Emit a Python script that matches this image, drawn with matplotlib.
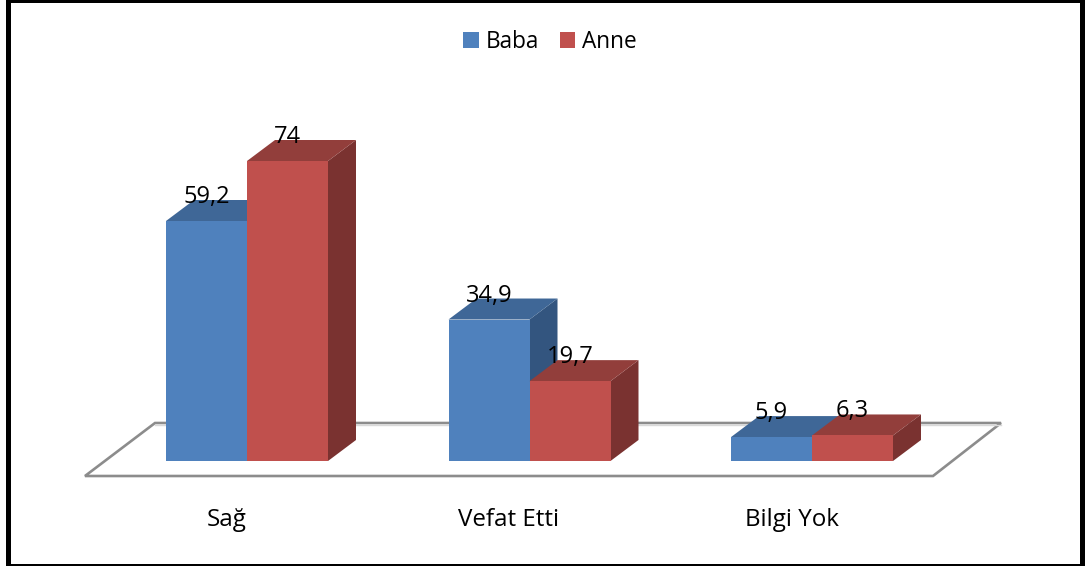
import matplotlib
matplotlib.use("Agg")
import matplotlib.pyplot as plt
from matplotlib.patches import Polygon, Rectangle

categories = ["Sağ", "Vefat Etti", "Bilgi Yok"]
baba = [59.2, 34.9, 5.9]
anne = [74, 19.7, 6.3]
baba_labels = ["59,2", "34,9", "5,9"]
anne_labels = ["74", "19,7", "6,3"]

W, H = 1091, 566
PX_PER_UNIT = 4.054
PX_PER_CAT = 282.5
X0, Y0 = 247.0, 461.0
BAR_W = 81 / PX_PER_CAT
DX = 28 / PX_PER_CAT
DY = 21 / PX_PER_UNIT

plt.rcParams["font.family"] = ["Open Sans", "DejaVu Sans"]
fig = plt.figure(figsize=(W / 100, H / 100), dpi=100, facecolor="white")
ax = fig.add_axes([0, 0, 1, 1])
ax.set_xlim(-X0 / PX_PER_CAT, (W - X0) / PX_PER_CAT)
ax.set_ylim(-(H - Y0) / PX_PER_UNIT, Y0 / PX_PER_UNIT)
ax.axis("off")


def px(x, y):
    return (x - X0) / PX_PER_CAT, (Y0 - y) / PX_PER_UNIT


# frame
for (x0, y0, x1, y1) in [(6, 0, 11, 566), (1080, 0, 1085, 566), (6, 0, 1085, 3), (6, 564, 1085, 566)]:
    a, b = px(x0, y1)
    c, d = px(x1, y0)
    ax.add_patch(Rectangle((a, b), c - a, d - b, fc="black", ec="none", zorder=20))

# floor
floor = [px(85, 476), px(155, 423), px(1001, 423), px(933, 476)]
ax.add_patch(Polygon(floor, closed=True, fc="white", ec="#8c8c8c", lw=1.9, zorder=1, joinstyle="miter"))
shadow = [px(155, 425), px(1001, 425)]
ax.plot(*zip(*shadow), color="#d9d9d9", lw=1.0, zorder=1.1)

FRONT = {"b": "#4F81BD", "a": "#C0504D"}
SIDE = {"b": "#33557F", "a": "#7A3230"}
TOP = {"b": "#3F6797", "a": "#923E3B"}


def draw(xleft, v, k, z, label):
    for x, h in zip(xleft, v):
        side = [(x + BAR_W, 0), (x + BAR_W + DX, DY), (x + BAR_W + DX, h + DY), (x + BAR_W, h)]
        top = [(x, h), (x + DX, h + DY), (x + BAR_W + DX, h + DY), (x + BAR_W, h)]
        ax.add_patch(Polygon(side, closed=True, fc=SIDE[k], ec="none", zorder=z))
        ax.add_patch(Polygon(top, closed=True, fc=TOP[k], ec="none", zorder=z))
    return ax.bar(xleft, v, width=BAR_W, align="edge", color=FRONT[k], zorder=z + 0.5, label=label, linewidth=0)


pos = list(range(len(categories)))
b_left = [p - BAR_W for p in pos]
a_left = list(pos)
h1 = draw(b_left, baba, "b", 2, "Baba")
h2 = draw(a_left, anne, "a", 3, "Anne")

for x, v, s in list(zip(b_left, baba, baba_labels)) + list(zip(a_left, anne, anne_labels)):
    ax.annotate(s, (x + BAR_W / 2, v), xytext=(0, 18 * 0.72), textcoords="offset points",
                ha="center", va="baseline", fontsize=17, color="black", zorder=10)

for p, c in zip(pos, categories):
    ax.annotate(c, (p, 0), xytext=(-20.5 * 0.72, -64.5 * 0.72), textcoords="offset points",
                ha="center", va="baseline", fontsize=17.4, color="black", zorder=10)

ax.legend(handles=[h1, h2], loc="center", bbox_to_anchor=(550 / W, 1 - 42 / H), ncol=2,
          frameon=False, fontsize=16.3, handlelength=0.68, handleheight=0.68, handletextpad=0.32,
          columnspacing=0.9, borderpad=0)

fig.savefig("out.png", dpi=100)
